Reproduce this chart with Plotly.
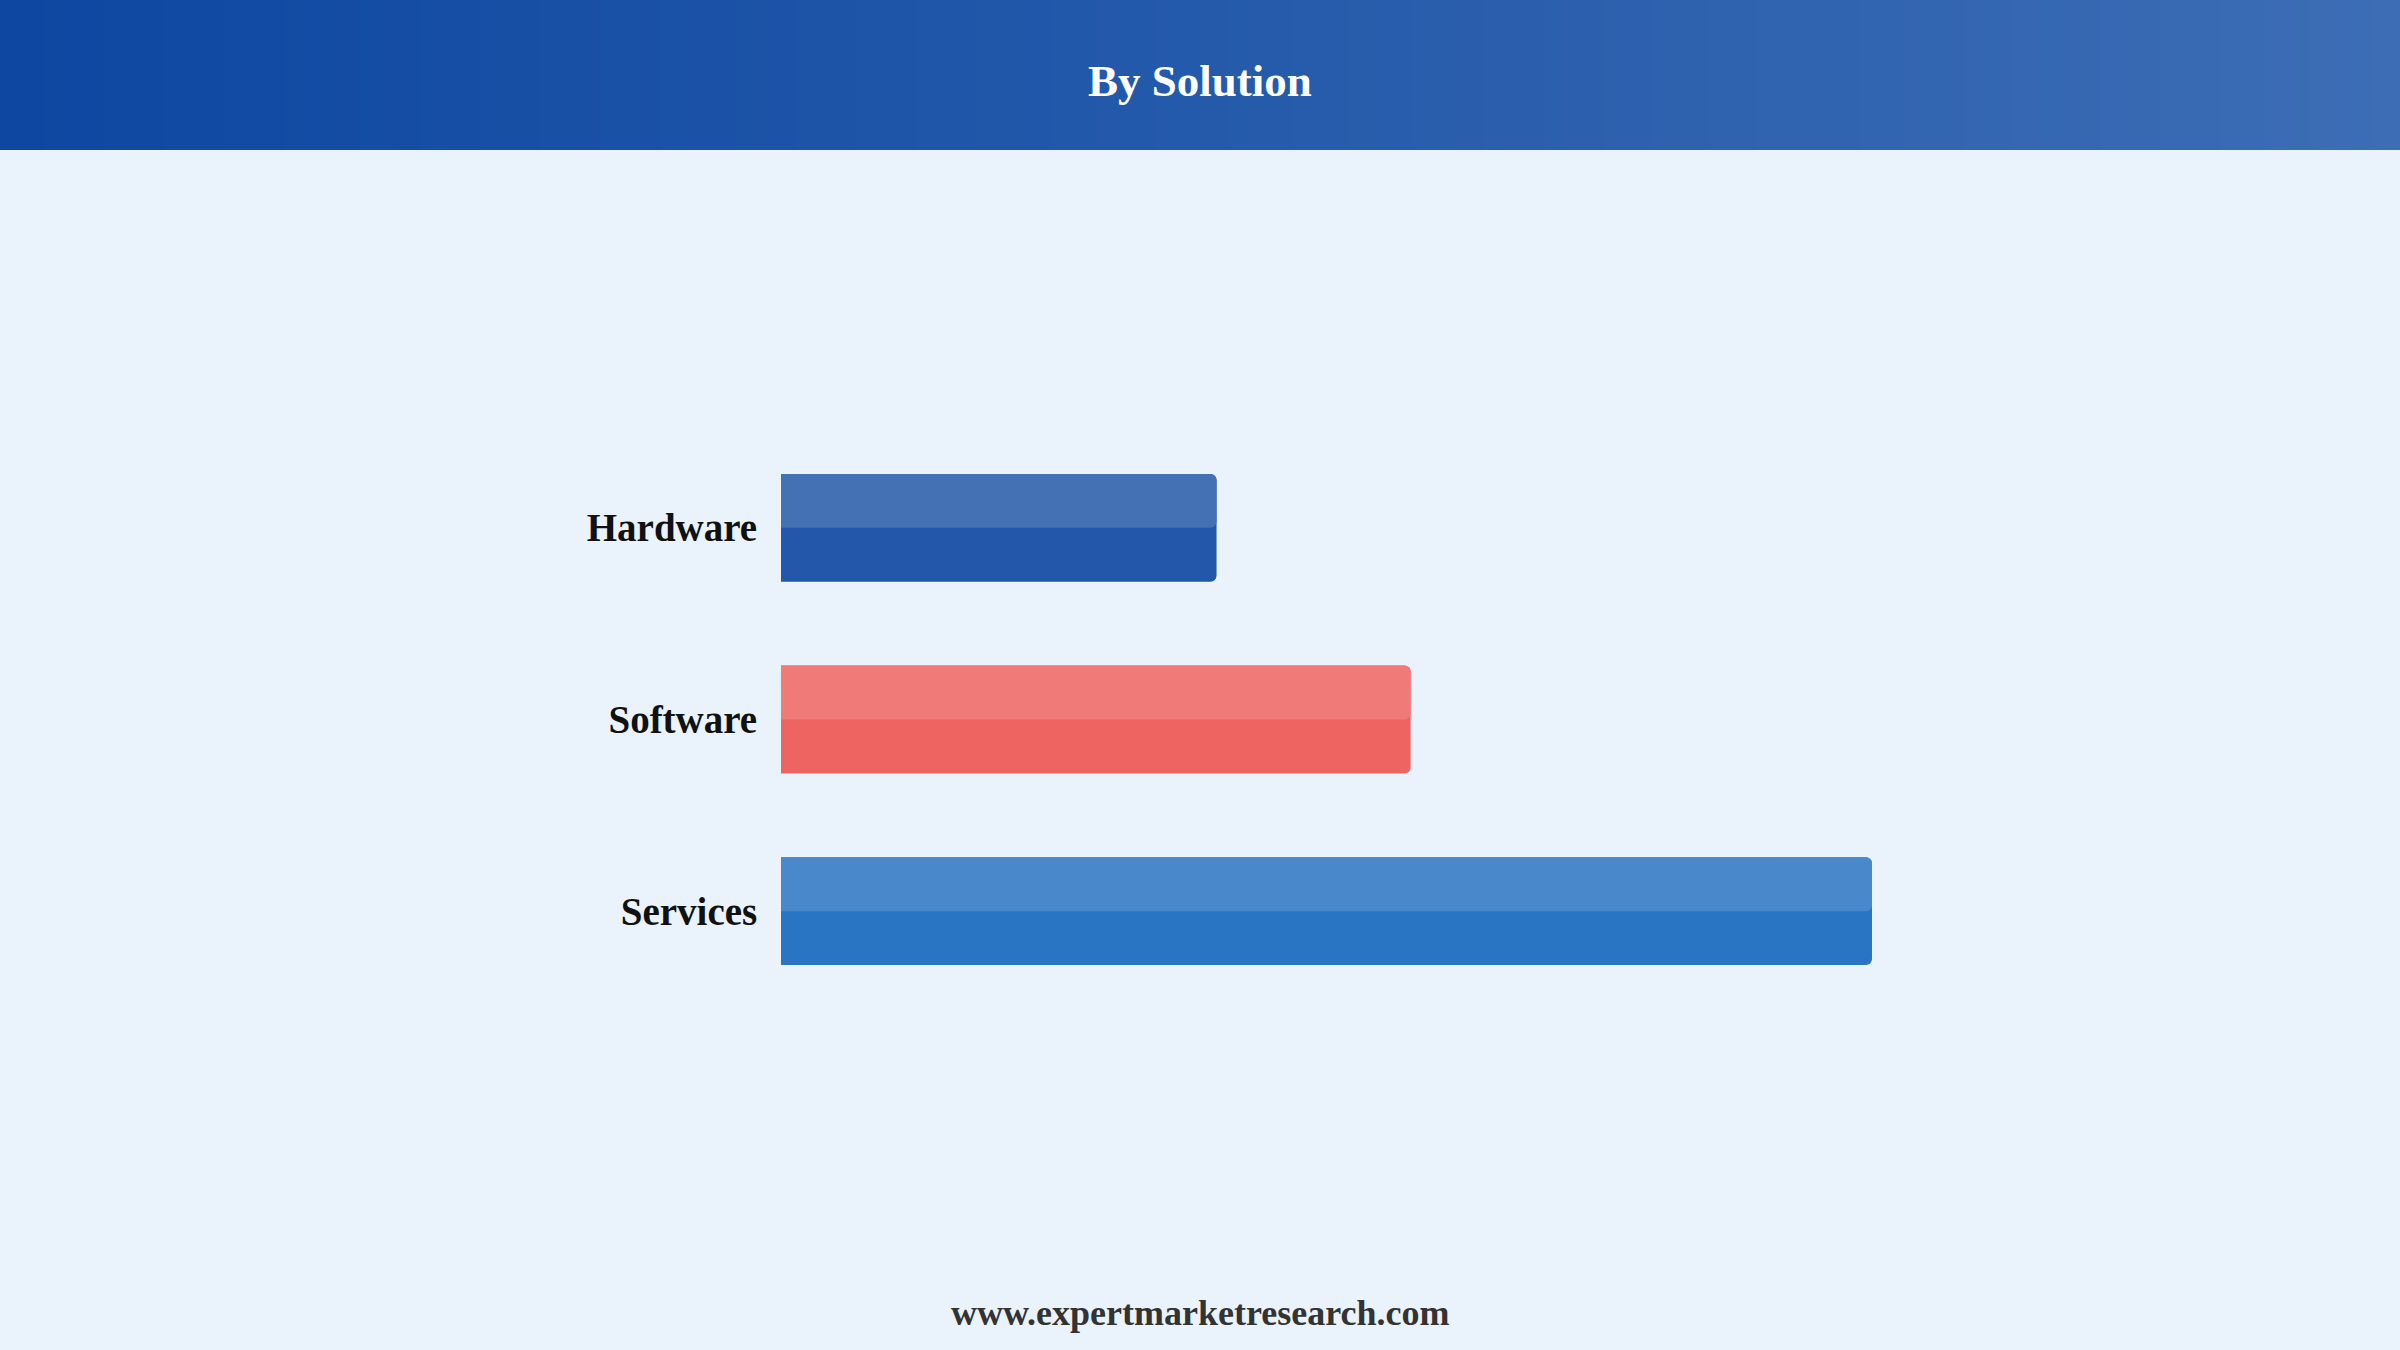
import plotly.graph_objects as go

# Segment shares
categories = ["Hardware", "Software", "Services"]
values = [20.2, 29.2, 50.6]

dark_colors = ["#2357a9", "#ed6461", "#2a74c4"]
light_colors = ["#4371b4", "#f07a78", "#4a88cc"]

W, H = 2400, 1350
plot_left, plot_right = 781, 1872
plot_top, plot_bottom = 432, 1007
bar_w = 0.563


def px(x):
    return (x - plot_left) / (plot_right - plot_left)


def py(y):
    return (plot_bottom - y) / (plot_bottom - plot_top)


ypos = list(range(len(categories)))

fig = go.Figure()

# full bar (darker lower tone)
fig.add_trace(go.Bar(
    y=ypos, x=values, orientation="h",
    width=bar_w, offset=-bar_w / 2,
    marker=dict(color=dark_colors, line_width=0, cornerradius=6),
    hoverinfo="skip", showlegend=False,
))
# lighter top half
fig.add_trace(go.Bar(
    y=ypos, x=values, orientation="h",
    width=bar_w / 2, offset=-bar_w / 2,
    marker=dict(color=light_colors, line_width=0, cornerradius=6),
    hoverinfo="skip", showlegend=False,
))

# header band with a left-to-right gradient, drawn as thin strips
shapes = []
n_strips = 160
c0 = (13, 71, 161)
c1 = (60, 109, 181)
for i in range(n_strips):
    t = i / (n_strips - 1)
    col = tuple(round(a + (b - a) * t) for a, b in zip(c0, c1))
    x0 = W * i / n_strips
    x1 = W * (i + 1) / n_strips + 1
    shapes.append(dict(
        type="rect", xref="paper", yref="paper",
        x0=px(x0), x1=px(x1), y0=py(150), y1=py(0),
        fillcolor="rgb(%d,%d,%d)" % col, line_width=0, layer="below",
    ))

fig.update_layout(
    width=W, height=H,
    barmode="overlay",
    paper_bgcolor="#eaf2fc",
    plot_bgcolor="#eaf2fc",
    margin=dict(l=plot_left, r=W - plot_right, t=plot_top, b=H - plot_bottom, pad=0),
    shapes=shapes,
    xaxis=dict(range=[0, max(values)], visible=False, fixedrange=True),
    yaxis=dict(
        range=[len(categories) - 0.5, -0.5],
        tickvals=ypos, ticktext=categories,
        showgrid=False, zeroline=False, showline=False,
        ticks="outside", ticklen=15, tickcolor="rgba(0,0,0,0)",
        tickfont=dict(family="Liberation Serif", size=39, color="#111111", weight="bold"),
        fixedrange=True,
    ),
    annotations=[
        dict(text="By Solution", xref="paper", yref="paper",
             x=px(W / 2), y=py(81), showarrow=False,
             xanchor="center", yanchor="middle",
             font=dict(family="Liberation Serif", size=45, color="white", weight="bold")),
        dict(text="www.expertmarketresearch.com", xref="paper", yref="paper",
             x=px(W / 2), y=py(1313), showarrow=False,
             xanchor="center", yanchor="middle",
             font=dict(family="Liberation Serif", size=36, color="#333333", weight="bold")),
    ],
)

fig.write_html(
    "out.html",
    config={"displayModeBar": False},
    post_script="document.body.style.margin='0';document.body.style.background='#eaf2fc';",
)
